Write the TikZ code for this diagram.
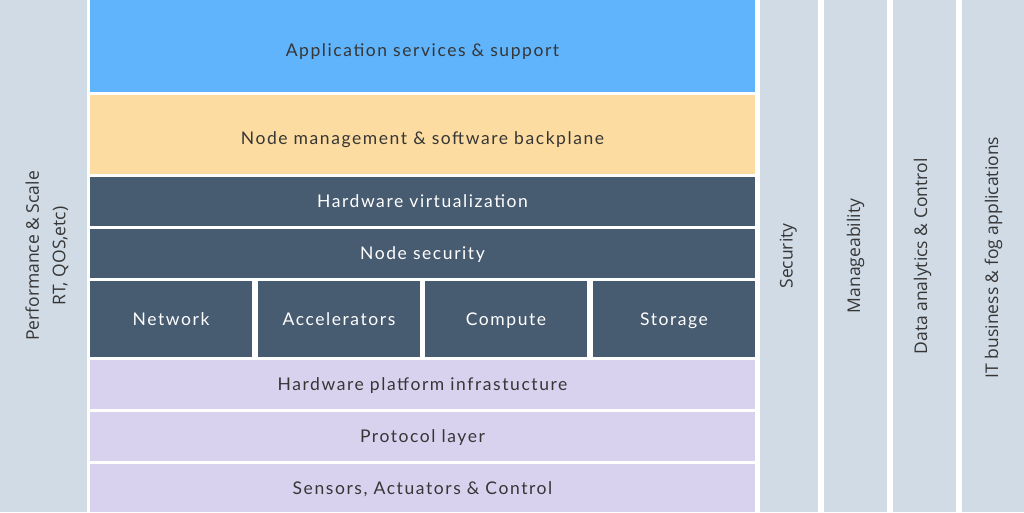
\documentclass[tikz,border=0pt]{standalone}
\usepackage{fontspec}
\setmainfont{Lato}[LetterSpace=9]
\newfontfamily\sidefont{Open Sans}
\definecolor{sidegray}{HTML}{D0DBE6}
\definecolor{appblue}{HTML}{5FB4FC}
\definecolor{mgmtorange}{HTML}{FCDCA0}
\definecolor{hwslate}{HTML}{475B71}
\definecolor{baselav}{HTML}{D8D2EF}
\definecolor{txtdark}{HTML}{363636}
\tikzset{
  layer/.style={rectangle, inner sep=0pt, outer sep=0pt, anchor=center,
    text height=12.6pt, text depth=0pt, font=\fontsize{17.5}{20}\selectfont},
  light/.style={layer, text=txtdark},
  dark/.style={layer, fill=hwslate, text=white},
  pillar/.style={rectangle, inner sep=0pt, outer sep=0pt, fill=sidegray,
    minimum height=512},
  sidetext/.style={rotate=90, inner sep=0pt, text=txtdark, text height=12.4pt,
    text depth=0pt, font=\sidefont\fontsize{17.5}{20}\selectfont}
}
\begin{document}
\begin{tikzpicture}[x=1pt,y=1pt,yscale=-1]
        \useasboundingbox[fill=white] (0,0) rectangle (1024,512);

        % Side pillars
        \node [pillar, minimum width=87] (perf) at (43.5,256) {};
        \node [rotate=90, inner sep=0pt, align=center, text=txtdark,
          font=\sidefont\fontsize{17.5}{26.5}\selectfont] (perftxt) at (47,256) {Performance \& Scale\\RT, QOS,etc)};
        \node [pillar, minimum width=58] (sec) at (789,256) {};
        \node [sidetext] (sectxt) at (786.5,256) {Security};
        \node [pillar, minimum width=63] (mng) at (855.5,256) {};
        \node [sidetext] (mngtxt) at (854,256) {Manageability};
        \node [pillar, minimum width=63] (data) at (924.5,256) {};
        \node [sidetext] (datatxt) at (921,256.5) {Data analytics \& Control};
        \node [pillar, minimum width=62] (itbiz) at (993,256) {};
        \node [sidetext] (itbiztxt) at (992,257.5) {IT business \& fog applications};

        % Upper layers
        \node [light, fill=appblue, minimum width=665, minimum height=92, text height=20.6pt] (app) at (422.5,46) {Application services \& support};
        \node [light, fill=mgmtorange, minimum width=665, minimum height=79, text height=19.6pt] (mgmt) at (422.5,134.5) {Node management \& software backplane};

        % Hardware layers
        \node [dark, minimum width=665, minimum height=49] (virt) at (422.5,201.5) {Hardware virtualization};
        \node [dark, minimum width=665, minimum height=49] (nsec) at (422.5,253.5) {Node security};
        \node [dark, minimum width=162, minimum height=76] (net) at (171,319) {Network};
        \node [dark, minimum width=162, minimum height=76] (acc) at (339,319) {Accelerators};
        \node [dark, minimum width=162, minimum height=76] (comp) at (506,319) {Compute};
        \node [dark, minimum width=162, minimum height=76] (stor) at (674,319) {Storage};

        % Lower layers
        \node [light, fill=baselav, minimum width=665, minimum height=49] (plat) at (422.5,384.5) {Hardware platform infrastucture};
        \node [light, fill=baselav, minimum width=665, minimum height=49] (proto) at (422.5,436.5) {Protocol layer};
        \node [light, fill=baselav, minimum width=665, minimum height=48] (sens) at (422.5,488) {Sensors, Actuators \& Control};
\end{tikzpicture}
\end{document}
